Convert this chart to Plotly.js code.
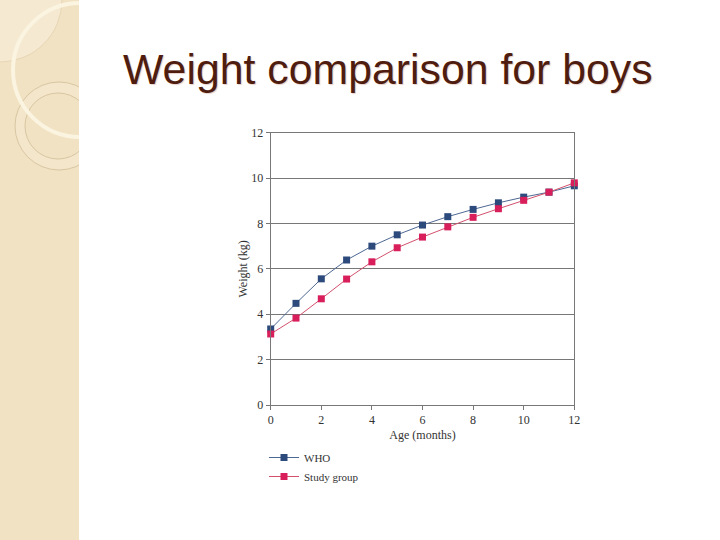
<!DOCTYPE html>
<html>
<head>
<meta charset="utf-8">
<script src="https://cdn.plot.ly/plotly-3.0.1.min.js"></script>
<style>html,body{margin:0;padding:0;background:#fff;}</style>
</head>
<body>
<div id="chart" style="width:720px;height:540px;"></div>
<script>
// Data
var ageMonths = [0, 1, 2, 3, 4, 5, 6, 7, 8, 9, 10, 11, 12];
var whoWeight = [3.35, 4.48, 5.56, 6.39, 7.0, 7.5, 7.93, 8.3, 8.62, 8.91, 9.16, 9.38, 9.66];
var studyWeight = [3.13, 3.83, 4.68, 5.55, 6.31, 6.93, 7.4, 7.85, 8.27, 8.65, 9.02, 9.38, 9.79];
var seriesNames = ['WHO', 'Study group'];
var tickVals = [0, 2, 4, 6, 8, 10, 12];

var W = 720, H = 540;
function px(x) { return x / W; }
function py(y) { return 1 - y / H; }
function circ(cx, cy, r, fill, line, lw) {
  return {type: 'circle', xref: 'paper', yref: 'paper', layer: 'below',
    x0: px(cx - r), x1: px(cx + r), y0: py(cy + r), y1: py(cy - r),
    fillcolor: fill, line: {color: line, width: lw}};
}

var shapes = [
  {type: 'rect', xref: 'paper', yref: 'paper', layer: 'below', x0: 0, x1: px(79), y0: 0, y1: 1,
   fillcolor: '#f1e2c3', line: {width: 0}},
  circ(0, 0, 62, '#f5e9d1', '#e6d6b4', 1),
  circ(59, 126, 44, '#f3e6cb', '#d9c6a2', 1),
  circ(58, 126, 33, '#f1e2c3', '#d9c6a2', 1),
  circ(80, 70, 67, 'rgba(0,0,0,0)', '#fbf4e0', 4),
  {type: 'rect', xref: 'paper', yref: 'paper', layer: 'below', x0: px(79), x1: 1, y0: 0, y1: 1,
   fillcolor: '#ffffff', line: {width: 0}}
];

var traces = [
  {x: ageMonths, y: whoWeight, name: seriesNames[0], type: 'scatter', mode: 'lines+markers',
   line: {color: '#4d6892', width: 1}, marker: {symbol: 'square', size: 7, color: '#2c4a7b'},
   cliponaxis: false},
  {x: ageMonths, y: studyWeight, name: seriesNames[1], type: 'scatter', mode: 'lines+markers',
   line: {color: '#d2506c', width: 1}, marker: {symbol: 'square', size: 7, color: '#d81e5b'},
   cliponaxis: false}
];

var serif = 'Liberation Serif, Times New Roman, serif';
var layout = {
  width: W, height: H,
  margin: {l: 0, r: 0, t: 0, b: 0, pad: 0},
  paper_bgcolor: 'rgba(0,0,0,0)',
  plot_bgcolor: 'rgba(0,0,0,0)',
  showlegend: true,
  shapes: shapes,
  xaxis: {
    domain: [px(270.7), px(574.3)], range: [0, 12], tickvals: tickVals,
    showgrid: false, zeroline: false, showline: true, mirror: true, linecolor: '#777', linewidth: 1,
    ticks: 'outside', ticklen: 4, tickcolor: '#777',
    tickfont: {family: serif, size: 12, color: '#333'},
    title: {text: 'Age (months)', font: {family: serif, size: 12, color: '#333'}, standoff: 4}
  },
  yaxis: {
    domain: [py(405), py(132.7)], range: [0, 12], tickvals: tickVals,
    showgrid: true, gridcolor: '#777', gridwidth: 1, zeroline: false,
    showline: true, mirror: true, linecolor: '#777', linewidth: 1,
    ticks: 'outside', ticklen: 4, tickcolor: '#777',
    tickfont: {family: serif, size: 12, color: '#333'},
    title: {text: 'Weight (kg)', font: {family: serif, size: 12, color: '#333'}, standoff: 1}
  },
  legend: {
    x: px(264), y: py(443), xanchor: 'left', yanchor: 'top',
    bgcolor: 'rgba(0,0,0,0)', font: {family: serif, size: 11, color: '#333'},
    tracegroupgap: 0, itemwidth: 30
  },
  annotations: [
    {text: 'Weight comparison for boys', xref: 'paper', yref: 'paper',
     x: px(121), y: py(69), xanchor: 'left', yanchor: 'middle', showarrow: false,
     font: {family: 'Liberation Sans, Arial, sans-serif', size: 42.8, color: '#4f1d10',
            shadow: '1px 1px 1px #e8d2ca'}}
  ]
};

Plotly.newPlot('chart', traces, layout, {displayModeBar: false, staticPlot: true});
</script>
</body>
</html>
